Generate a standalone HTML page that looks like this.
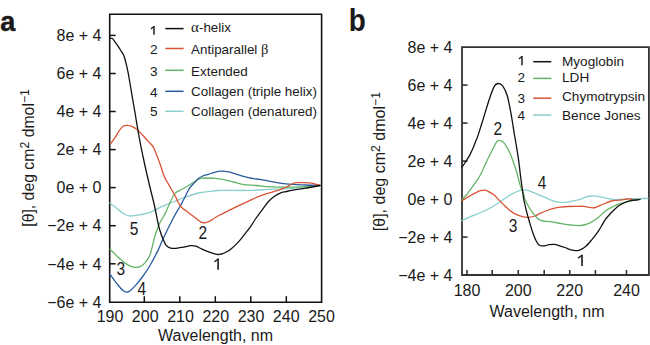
<!DOCTYPE html>
<html><head><meta charset="utf-8"><style>
html,body{margin:0;padding:0;background:#fff;width:650px;height:345px;overflow:hidden}
svg{display:block}
text{font-family:"Liberation Sans",sans-serif;fill:#1a1a1a}
</style></head><body>
<svg width="650" height="345" viewBox="0 0 650 345">
<text transform="translate(0.2,31) scale(0.95,1)" font-size="28.5" font-weight="bold" stroke="#1a1a1a" stroke-width="0.5">a</text>
<text transform="translate(348.8,31) scale(0.9,1)" font-size="31" font-weight="bold">b</text>
<path d="M109.7 14.2 H321.6 V302.2 H109.7 Z" fill="none" stroke="#111" stroke-width="1.6"/>
<path d="M109.7 35.4 h6" stroke="#111" stroke-width="1.5"/>
<text x="101.5" y="41.1" font-size="16.0" text-anchor="end">8e + 4</text>
<path d="M109.7 73.5 h6" stroke="#111" stroke-width="1.5"/>
<text x="101.5" y="79.2" font-size="16.0" text-anchor="end">6e + 4</text>
<path d="M109.7 111.5 h6" stroke="#111" stroke-width="1.5"/>
<text x="101.5" y="117.2" font-size="16.0" text-anchor="end">4e + 4</text>
<path d="M109.7 149.6 h6" stroke="#111" stroke-width="1.5"/>
<text x="101.5" y="155.3" font-size="16.0" text-anchor="end">2e + 4</text>
<path d="M109.7 187.6 h6" stroke="#111" stroke-width="1.5"/>
<text x="101.5" y="193.3" font-size="16.0" text-anchor="end">0e + 0</text>
<path d="M109.7 225.7 h6" stroke="#111" stroke-width="1.5"/>
<text x="101.5" y="231.4" font-size="16.0" text-anchor="end">−2e + 4</text>
<path d="M109.7 263.8 h6" stroke="#111" stroke-width="1.5"/>
<text x="101.5" y="269.5" font-size="16.0" text-anchor="end">−4e + 4</text>
<text x="101.5" y="307.5" font-size="16.0" text-anchor="end">−6e + 4</text>
<text x="110.0" y="322.0" font-size="16.0" text-anchor="middle">190</text>
<path d="M144.3 302.2 v-6" stroke="#111" stroke-width="1.5"/>
<text x="145.2" y="322.0" font-size="16.0" text-anchor="middle">200</text>
<path d="M179.8 302.2 v-6" stroke="#111" stroke-width="1.5"/>
<text x="180.5" y="322.0" font-size="16.0" text-anchor="middle">210</text>
<path d="M215.3 302.2 v-6" stroke="#111" stroke-width="1.5"/>
<text x="215.8" y="322.0" font-size="16.0" text-anchor="middle">220</text>
<path d="M250.8 302.2 v-6" stroke="#111" stroke-width="1.5"/>
<text x="251.0" y="322.0" font-size="16.0" text-anchor="middle">230</text>
<path d="M286.3 302.2 v-6" stroke="#111" stroke-width="1.5"/>
<text x="286.2" y="322.0" font-size="16.0" text-anchor="middle">240</text>
<text x="321.5" y="322.0" font-size="16.0" text-anchor="middle">250</text>
<text x="215.6" y="340.5" font-size="16.0" text-anchor="middle">Wavelength, nm</text>
<text transform="translate(33.5,157.9) rotate(-90)" font-size="15.8" text-anchor="middle">[θ], deg cm<tspan font-size="12.3" dy="-4.7">2</tspan><tspan dy="4.7"> dmol</tspan><tspan font-size="12.3" dy="-4.7">−1</tspan></text>
<path d="M154.0 26.0 V34.8" stroke="#1a1a1a" stroke-width="1.45" fill="none"/><path d="M153.7 26.8 L151.3 28.6" stroke="#1a1a1a" stroke-width="1.23" fill="none" stroke-linecap="round"/>
<path d="M165.3 28.6 H183.6" stroke="#111" stroke-width="1.5"/>
<text x="191.1" y="32.0" font-size="13.4" text-anchor="start"><tspan font-family="Liberation Serif" font-size="15">α</tspan>-helix</text>
<text x="150.0" y="53.8" font-size="13.6" text-anchor="start">2</text>
<path d="M165.3 48.5 H183.6" stroke="#da5234" stroke-width="1.5"/>
<text x="191.1" y="53.5" font-size="13.4" text-anchor="start">Antiparallel <tspan font-family="Liberation Serif" font-size="14.5">β</tspan></text>
<text x="150.0" y="75.5" font-size="13.6" text-anchor="start">3</text>
<path d="M165.3 70.3 H183.6" stroke="#64b466" stroke-width="1.5"/>
<text x="191.1" y="75.5" font-size="13.4" text-anchor="start">Extended</text>
<text x="150.0" y="96.5" font-size="13.6" text-anchor="start">4</text>
<path d="M165.3 91.3 H183.6" stroke="#2a5b9e" stroke-width="1.5"/>
<text x="191.1" y="96.4" font-size="13.4" text-anchor="start">Collagen (triple helix)</text>
<text x="150.0" y="116.3" font-size="13.6" text-anchor="start">5</text>
<path d="M165.3 111.3 H183.6" stroke="#8acfcc" stroke-width="1.5"/>
<text x="191.1" y="116.0" font-size="13.4" text-anchor="start">Collagen (denatured)</text>
<path d="M110.0 203.0 C110.7 203.6 112.9 205.2 114.3 206.3 C115.7 207.4 116.9 208.4 118.2 209.5 C119.5 210.6 120.8 211.7 122.1 212.6 C123.4 213.5 124.6 214.4 126.0 215.0 C127.4 215.6 129.1 215.9 130.7 216.0 C132.3 216.1 133.7 215.7 135.4 215.5 C137.1 215.3 138.8 215.0 140.9 214.6 C143.0 214.2 145.7 213.9 148.0 213.2 C150.3 212.5 152.2 211.4 154.5 210.3 C156.8 209.2 158.5 208.0 161.6 206.6 C164.7 205.2 169.1 203.6 173.2 202.0 C177.3 200.4 181.8 198.5 186.0 197.0 C190.2 195.5 194.2 193.9 198.2 193.0 C202.2 192.1 206.9 191.7 210.0 191.3 C213.1 190.9 214.1 190.7 217.0 190.5 C219.9 190.3 221.9 190.4 227.4 190.4 C232.9 190.4 243.2 190.6 250.0 190.4 C256.8 190.2 261.3 189.8 268.2 189.4 C275.1 189.1 282.8 189.0 291.4 188.3 C300.0 187.7 315.2 186.0 320.0 185.5" fill="none" stroke="#8acfcc" stroke-width="1.30" stroke-linejoin="round" stroke-linecap="round"/>
<path d="M110.0 249.3 C111.4 250.7 115.8 255.0 118.4 257.4 C121.0 259.8 123.1 261.8 125.4 263.4 C127.7 265.0 130.0 266.3 132.3 266.9 C134.6 267.5 137.3 267.5 139.3 266.9 C141.3 266.3 142.8 265.3 144.5 263.4 C146.2 261.5 148.4 258.2 149.7 255.6 C150.9 253.0 151.2 250.8 152.0 247.8 C152.8 244.8 153.3 241.5 154.5 237.5 C155.7 233.5 157.5 228.0 159.3 224.0 C161.1 220.0 163.5 216.8 165.1 213.6 C166.7 210.3 167.6 207.6 169.1 204.5 C170.6 201.4 172.5 197.1 173.8 195.0 C175.1 192.9 175.6 192.8 177.0 191.8 C178.4 190.9 180.0 190.4 182.0 189.3 C184.0 188.2 186.6 186.7 188.9 185.3 C191.2 183.9 194.0 181.9 195.9 180.7 C197.8 179.5 199.0 178.8 200.5 178.3 C202.0 177.9 202.7 178.0 205.1 178.0 C207.5 178.0 211.9 178.0 215.0 178.3 C218.1 178.6 220.9 179.1 223.9 179.7 C226.9 180.3 230.1 181.2 233.2 182.0 C236.3 182.8 238.6 183.7 242.5 184.3 C246.4 184.9 252.3 185.1 256.6 185.5 C260.9 185.9 264.3 186.4 268.2 186.7 C272.1 187.0 275.9 187.0 279.8 187.1 C283.7 187.2 287.1 187.2 291.4 187.1 C295.6 187.0 300.5 187.0 305.3 186.7 C310.1 186.4 317.6 185.7 320.0 185.5" fill="none" stroke="#64b466" stroke-width="1.30" stroke-linejoin="round" stroke-linecap="round"/>
<path d="M109.8 273.9 C111.0 275.5 114.4 280.5 116.7 283.4 C119.0 286.2 121.6 289.6 123.6 291.0 C125.6 292.4 126.8 292.7 128.8 291.7 C130.8 290.7 133.5 287.6 135.8 285.1 C138.1 282.6 140.4 279.7 142.7 276.5 C145.0 273.3 147.1 270.4 149.7 266.0 C152.2 261.6 155.8 254.9 158.0 250.4 C160.2 245.9 160.5 244.4 163.0 239.0 C165.5 233.6 170.2 223.9 173.2 218.2 C176.2 212.5 178.8 208.7 180.8 205.0 C182.8 201.3 184.0 199.1 185.4 196.3 C186.8 193.5 187.9 190.5 189.5 188.2 C191.1 185.9 193.1 184.1 194.7 182.4 C196.2 180.8 197.5 179.4 198.8 178.3 C200.2 177.2 201.2 176.7 202.8 176.0 C204.4 175.3 206.7 174.9 208.6 174.3 C210.5 173.7 212.2 172.8 214.4 172.3 C216.6 171.8 219.2 171.3 221.6 171.2 C224.0 171.1 226.3 171.4 228.6 171.9 C230.9 172.4 233.2 173.2 235.5 173.9 C237.8 174.6 240.1 175.5 242.5 176.2 C244.9 176.9 247.7 177.5 250.0 178.0 C252.3 178.5 253.6 178.5 256.6 179.0 C259.6 179.5 264.3 180.1 268.2 180.8 C272.1 181.5 275.9 182.5 280.0 183.1 C284.1 183.7 288.6 184.1 292.9 184.4 C297.2 184.7 301.3 184.8 305.8 185.0 C310.3 185.2 317.6 185.3 320.0 185.4" fill="none" stroke="#2a5b9e" stroke-width="1.30" stroke-linejoin="round" stroke-linecap="round"/>
<path d="M110.8 143.6 C111.5 142.6 113.5 139.8 115.0 137.6 C116.5 135.3 118.2 132.0 119.6 130.1 C120.9 128.2 121.8 127.0 123.1 126.2 C124.4 125.4 126.2 125.3 127.7 125.4 C129.2 125.5 130.8 125.9 132.3 126.6 C133.9 127.3 135.2 128.1 137.0 129.5 C138.8 130.9 141.0 133.4 142.8 135.3 C144.6 137.2 146.2 139.1 148.0 141.1 C149.8 143.1 151.6 143.8 153.5 147.5 C155.4 151.2 157.9 158.2 159.7 163.0 C161.5 167.8 162.6 172.6 164.3 176.6 C166.0 180.6 168.3 183.8 170.1 187.0 C171.9 190.2 173.6 192.8 175.0 195.5 C176.4 198.2 177.3 200.9 178.5 203.0 C179.7 205.1 180.7 206.4 182.0 207.8 C183.3 209.2 185.1 210.0 186.6 211.2 C188.1 212.3 189.6 213.5 191.2 214.7 C192.8 215.9 194.3 217.0 195.9 218.2 C197.5 219.4 199.1 221.1 200.5 221.9 C201.9 222.7 203.0 222.9 204.6 222.8 C206.2 222.7 208.1 221.9 209.8 221.1 C211.5 220.3 213.1 218.9 215.0 217.8 C216.9 216.7 218.7 215.7 221.3 214.3 C223.9 213.0 227.5 211.2 230.6 209.7 C233.7 208.2 236.7 206.7 239.8 205.2 C242.9 203.7 246.3 202.1 249.1 200.8 C251.9 199.5 254.2 198.4 256.5 197.4 C258.8 196.4 260.8 195.6 263.0 194.8 C265.2 194.0 267.4 193.5 269.6 192.8 C271.8 192.2 274.2 191.5 276.1 190.9 C278.1 190.3 279.6 189.8 281.3 189.1 C283.0 188.4 285.1 187.6 286.5 187.0 C287.9 186.4 288.4 186.0 289.5 185.4 C290.6 184.8 291.8 183.9 292.9 183.5 C294.0 183.1 294.5 182.8 296.1 182.7 C297.7 182.5 300.4 182.6 302.6 182.6 C304.8 182.6 307.3 182.6 309.1 182.8 C310.9 183.0 312.0 183.2 313.6 183.6 C315.2 184.0 317.7 184.7 318.8 185.0 C319.9 185.3 319.8 185.4 320.0 185.5" fill="none" stroke="#da5234" stroke-width="1.30" stroke-linejoin="round" stroke-linecap="round"/>
<path d="M110.0 38.2 C110.4 38.3 111.6 38.0 112.4 38.6 C113.2 39.2 114.0 40.5 115.0 41.9 C116.0 43.3 117.4 45.2 118.5 46.8 C119.6 48.4 120.6 50.3 121.5 51.7 C122.4 53.1 123.2 54.0 123.8 55.4 C124.4 56.8 124.7 58.3 125.2 60.0 C125.7 61.7 126.1 63.6 126.6 65.6 C127.1 67.6 127.5 69.7 128.0 72.1 C128.5 74.5 128.4 74.0 129.4 80.0 C130.4 86.0 132.5 98.3 134.2 108.0 C135.8 117.7 137.6 128.8 139.3 138.0 C141.0 147.2 142.7 155.0 144.4 163.0 C146.1 171.0 148.0 179.0 149.7 186.0 C151.3 193.0 153.0 199.0 154.3 205.0 C155.7 211.0 156.9 218.0 157.8 222.0 C158.7 226.0 158.7 226.4 159.5 229.0 C160.3 231.6 161.4 235.2 162.5 237.8 C163.6 240.4 164.6 243.1 165.8 244.8 C167.1 246.5 168.3 247.2 170.0 247.8 C171.7 248.4 174.1 248.4 176.2 248.3 C178.2 248.2 179.9 247.8 182.3 247.3 C184.8 246.9 188.7 245.8 190.9 245.6 C193.2 245.4 194.0 245.6 195.8 246.2 C197.7 246.8 199.7 248.2 202.0 249.2 C204.3 250.2 206.9 251.3 209.4 252.2 C211.9 253.1 214.8 254.1 216.8 254.4 C218.8 254.7 219.8 254.4 221.5 254.0 C223.2 253.6 225.1 252.6 226.8 251.7 C228.5 250.8 230.0 249.7 231.6 248.4 C233.2 247.1 234.7 245.7 236.3 244.1 C237.9 242.5 239.5 240.7 241.1 238.8 C242.7 236.9 244.3 234.7 245.9 232.6 C247.5 230.5 249.0 228.8 250.7 226.4 C252.3 224.1 253.7 221.5 255.8 218.5 C257.9 215.5 261.1 211.2 263.3 208.3 C265.5 205.4 267.3 202.8 269.2 200.8 C271.1 198.8 272.5 197.6 274.5 196.2 C276.5 194.8 279.3 193.4 281.3 192.6 C283.3 191.8 284.6 191.9 286.5 191.5 C288.4 191.1 290.8 190.6 292.9 190.2 C295.0 189.8 297.2 189.5 299.4 189.2 C301.5 188.9 303.6 188.6 305.8 188.2 C308.0 187.8 309.9 187.4 312.3 187.0 C314.7 186.6 318.7 185.8 320.0 185.5" fill="none" stroke="#111" stroke-width="1.30" stroke-linejoin="round" stroke-linecap="round"/>
<path d="M218.1 258.4 V269.7" stroke="#1a1a1a" stroke-width="1.60" fill="none"/><path d="M217.8 259.2 L214.9 261.6" stroke="#1a1a1a" stroke-width="1.36" fill="none" stroke-linecap="round"/>
<text transform="translate(134.0,235.3) scale(1,1.150)" font-size="15.5" text-anchor="middle">5</text>
<text transform="translate(120.8,275.4) scale(1,1.150)" font-size="15.5" text-anchor="middle">3</text>
<text transform="translate(141.7,294.6) scale(1,1.150)" font-size="15.5" text-anchor="middle">4</text>
<text transform="translate(202.8,238.8) scale(1,1.150)" font-size="15.5" text-anchor="middle">2</text>
<path d="M462.0 47.1 H648.9 V275.0 H462.0 Z" fill="none" stroke="#333" stroke-width="1.8"/>
<text x="452.5" y="52.8" font-size="16.0" text-anchor="end">8e + 4</text>
<path d="M462.0 85.1 h5.5" stroke="#333" stroke-width="1.6"/>
<text x="452.5" y="90.8" font-size="16.0" text-anchor="end">6e + 4</text>
<path d="M462.0 123.1 h5.5" stroke="#333" stroke-width="1.6"/>
<text x="452.5" y="128.8" font-size="16.0" text-anchor="end">4e + 4</text>
<path d="M462.0 161.1 h5.5" stroke="#333" stroke-width="1.6"/>
<text x="452.5" y="166.8" font-size="16.0" text-anchor="end">2e + 4</text>
<path d="M462.0 199.1 h2.5" stroke="#333" stroke-width="1.6"/>
<text x="452.5" y="204.8" font-size="16.0" text-anchor="end">0e + 0</text>
<path d="M462.0 237.1 h5.5" stroke="#333" stroke-width="1.6"/>
<text x="452.5" y="242.8" font-size="16.0" text-anchor="end">−2e + 4</text>
<text x="452.5" y="280.8" font-size="16.0" text-anchor="end">−4e + 4</text>
<path d="M467.0 275.0 v-5" stroke="#333" stroke-width="1.6"/>
<text x="467.0" y="295.5" font-size="16.0" text-anchor="middle">180</text>
<path d="M492.2 275.0 v-5" stroke="#333" stroke-width="1.6"/>
<path d="M518.3 275.0 v-5" stroke="#333" stroke-width="1.6"/>
<text x="518.3" y="295.5" font-size="16.0" text-anchor="middle">200</text>
<path d="M544.2 275.0 v-5" stroke="#333" stroke-width="1.6"/>
<path d="M569.7 275.0 v-5" stroke="#333" stroke-width="1.6"/>
<text x="569.7" y="295.5" font-size="16.0" text-anchor="middle">220</text>
<path d="M595.4 275.0 v-5" stroke="#333" stroke-width="1.6"/>
<path d="M626.5 275.0 v-5" stroke="#333" stroke-width="1.6"/>
<text x="626.5" y="295.5" font-size="16.0" text-anchor="middle">240</text>
<text x="547.0" y="317.0" font-size="16.0" text-anchor="middle">Wavelength, nm</text>
<text transform="translate(385,161.6) rotate(-90)" font-size="16" text-anchor="middle">[θ], deg cm<tspan font-size="12.3" dy="-4.7">2</tspan><tspan dy="4.7"> dmol</tspan><tspan font-size="12.3" dy="-4.7">−1</tspan></text>
<path d="M522.0 56.0 V65.3" stroke="#1a1a1a" stroke-width="1.45" fill="none"/><path d="M521.7 56.8 L519.3 58.6" stroke="#1a1a1a" stroke-width="1.23" fill="none" stroke-linecap="round"/>
<path d="M533.2 61.7 H551.3" stroke="#111" stroke-width="1.5"/>
<text x="562.0" y="65.7" font-size="13.6" text-anchor="start">Myoglobin</text>
<text x="517.6" y="82.0" font-size="13.6" text-anchor="start">2</text>
<path d="M533.2 78.4 H551.3" stroke="#64b466" stroke-width="1.5"/>
<text x="562.0" y="82.0" font-size="13.6" text-anchor="start">LDH</text>
<text x="517.6" y="102.8" font-size="13.6" text-anchor="start">3</text>
<path d="M533.2 98.2 H551.3" stroke="#da5234" stroke-width="1.5"/>
<text x="562.0" y="101.4" font-size="13.6" text-anchor="start">Chymotrypsin</text>
<text x="517.6" y="120.0" font-size="13.6" text-anchor="start">4</text>
<path d="M533.2 115.1 H551.3" stroke="#8acfcc" stroke-width="1.5"/>
<text x="562.0" y="120.0" font-size="13.6" text-anchor="start">Bence Jones</text>
<path d="M462.0 220.7 C463.6 219.9 468.1 217.6 471.6 216.1 C475.1 214.6 479.7 213.1 483.2 211.5 C486.7 209.9 489.8 208.4 492.5 206.8 C495.2 205.2 497.1 203.8 499.4 202.2 C501.7 200.6 504.3 198.9 506.4 197.5 C508.5 196.1 509.7 195.0 512.0 193.8 C514.3 192.6 518.1 191.0 520.1 190.3 C522.1 189.6 522.6 189.8 524.0 189.8 C525.4 189.8 526.4 189.7 528.2 190.3 C530.1 190.9 533.1 192.3 535.1 193.2 C537.1 194.0 538.0 194.6 540.0 195.4 C542.0 196.2 544.7 197.3 547.0 198.3 C549.3 199.3 551.8 200.5 553.9 201.2 C556.0 201.9 557.6 202.2 559.7 202.4 C561.8 202.6 564.4 202.5 566.7 202.2 C569.0 201.9 571.4 201.3 573.6 200.8 C575.9 200.3 578.2 199.9 580.2 199.3 C582.2 198.7 583.5 197.7 585.4 197.1 C587.3 196.5 589.5 196.1 591.5 196.0 C593.5 195.9 595.6 196.0 597.6 196.3 C599.6 196.6 601.7 197.2 603.7 197.6 C605.7 198.0 607.9 198.6 609.8 198.9 C611.7 199.2 613.2 199.5 615.0 199.6 C616.8 199.7 618.0 199.5 620.6 199.3 C623.2 199.1 626.1 198.7 630.7 198.6 C635.3 198.5 645.1 198.5 648.0 198.5" fill="none" stroke="#8acfcc" stroke-width="1.30" stroke-linejoin="round" stroke-linecap="round"/>
<path d="M462.0 200.6 C463.0 200.0 466.3 198.0 468.1 196.9 C469.9 195.8 471.4 195.0 473.0 194.1 C474.6 193.2 476.4 192.2 477.9 191.6 C479.4 191.0 480.7 190.7 481.9 190.4 C483.1 190.2 484.0 190.0 485.0 190.1 C486.0 190.2 486.4 190.4 487.8 191.2 C489.2 191.9 491.7 193.1 493.6 194.6 C495.5 196.1 497.5 198.5 499.4 200.4 C501.3 202.3 503.4 204.5 505.2 206.2 C507.0 207.9 508.4 209.3 510.0 210.6 C511.6 211.9 513.2 213.0 515.0 213.9 C516.8 214.8 518.7 215.6 520.8 216.2 C522.9 216.8 525.4 217.4 527.8 217.4 C530.2 217.4 533.0 216.7 535.0 216.0 C537.0 215.3 538.0 214.3 540.0 213.4 C542.0 212.5 544.7 211.3 547.0 210.5 C549.3 209.7 551.6 208.9 553.9 208.3 C556.2 207.7 558.6 207.4 560.9 207.1 C563.2 206.8 565.4 206.6 567.8 206.5 C570.1 206.4 572.4 206.3 575.0 206.3 C577.6 206.3 581.5 206.2 583.7 206.3 C585.9 206.4 586.5 206.8 588.0 207.1 C589.5 207.3 591.1 207.8 592.4 207.8 C593.7 207.8 594.4 207.8 595.9 207.3 C597.4 206.8 599.4 205.8 601.1 205.0 C602.8 204.2 604.6 203.5 606.3 202.8 C608.0 202.1 609.9 201.4 611.5 201.0 C613.1 200.6 614.1 200.5 615.9 200.3 C617.7 200.1 620.5 200.0 622.3 199.8 C624.1 199.6 625.5 199.1 626.9 199.0 C628.3 198.9 629.7 198.9 630.6 199.0 C631.5 199.1 632.2 199.7 632.5 199.8" fill="none" stroke="#da5234" stroke-width="1.30" stroke-linejoin="round" stroke-linecap="round"/>
<path d="M462.2 199.0 C462.8 198.4 464.6 196.9 465.7 195.7 C466.8 194.5 467.8 193.0 468.9 191.6 C470.0 190.2 471.1 188.7 472.2 187.2 C473.3 185.7 474.4 184.0 475.4 182.7 C476.3 181.3 477.1 180.4 477.9 179.1 C478.7 177.8 479.4 176.6 480.3 175.0 C481.2 173.4 481.9 171.8 483.0 169.5 C484.1 167.2 485.3 164.2 486.7 161.3 C488.1 158.4 489.9 154.7 491.3 152.0 C492.7 149.3 493.9 146.8 494.8 145.1 C495.8 143.3 496.2 142.3 497.0 141.5 C497.8 140.7 498.3 140.3 499.3 140.4 C500.3 140.5 501.9 141.0 503.1 142.0 C504.3 143.0 505.4 144.7 506.6 146.6 C507.8 148.5 508.9 150.9 510.1 153.6 C511.3 156.3 512.5 159.5 513.6 162.8 C514.8 166.1 515.9 169.6 517.0 173.3 C518.1 177.0 519.0 181.6 520.1 185.1 C521.2 188.6 522.8 191.9 523.6 194.3 C524.4 196.7 524.1 197.4 525.0 199.5 C525.9 201.6 527.5 204.6 528.9 207.0 C530.3 209.4 532.0 211.9 533.6 213.9 C535.2 215.9 536.7 217.9 538.2 219.1 C539.7 220.3 540.8 220.6 542.8 221.0 C544.8 221.4 547.3 221.2 550.3 221.6 C553.2 222.0 557.1 222.8 560.5 223.4 C563.9 224.0 567.2 224.7 570.6 225.0 C574.0 225.3 577.8 225.8 580.8 225.5 C583.8 225.2 586.2 224.6 588.9 223.4 C591.6 222.2 594.3 220.4 597.0 218.4 C599.7 216.4 603.2 212.8 605.1 211.2 C607.0 209.6 606.4 210.1 608.5 209.0 C610.6 207.9 614.6 205.6 617.7 204.4 C620.8 203.2 624.1 202.3 626.9 201.6 C629.7 200.9 632.1 200.6 634.3 200.2 C636.5 199.8 639.0 199.5 640.0 199.4" fill="none" stroke="#64b466" stroke-width="1.30" stroke-linejoin="round" stroke-linecap="round"/>
<path d="M462.0 167.2 C462.6 166.3 464.2 164.0 465.5 162.0 C466.8 160.0 468.3 157.7 469.6 155.4 C470.9 153.1 472.0 150.6 473.1 148.1 C474.2 145.6 475.1 142.7 476.0 140.5 C476.9 138.3 476.9 138.9 478.2 134.9 C479.5 130.9 482.1 122.6 484.0 116.4 C485.9 110.2 488.1 102.8 489.8 97.8 C491.5 92.8 493.0 88.6 494.4 86.2 C495.8 83.8 496.5 83.6 497.9 83.5 C499.3 83.4 501.1 83.8 502.6 85.8 C504.2 87.8 505.9 91.2 507.2 95.5 C508.5 99.8 509.7 106.8 510.7 111.8 C511.7 116.8 512.4 121.8 513.0 125.7 C513.6 129.6 513.9 131.5 514.5 135.0 C515.1 138.5 515.8 142.4 516.5 146.6 C517.2 150.8 518.0 155.3 518.6 160.0 C519.2 164.7 519.8 170.1 520.4 175.0 C521.0 179.9 521.8 185.5 522.4 189.7 C523.0 193.9 523.2 196.3 523.9 200.0 C524.6 203.7 525.7 207.9 526.6 211.6 C527.5 215.3 528.5 218.6 529.5 222.0 C530.5 225.4 531.6 229.2 532.6 232.0 C533.6 234.8 534.3 237.0 535.2 238.9 C536.1 240.8 536.9 242.6 537.8 243.7 C538.7 244.8 539.2 245.3 540.4 245.7 C541.6 246.0 543.3 246.0 544.8 245.8 C546.2 245.6 547.5 244.8 549.1 244.6 C550.7 244.4 552.5 244.2 554.3 244.4 C556.0 244.6 557.9 245.3 559.6 245.8 C561.4 246.3 562.9 246.8 564.8 247.5 C566.7 248.2 569.0 249.3 570.8 249.8 C572.6 250.3 573.8 250.7 575.4 250.7 C577.0 250.7 578.4 250.5 580.1 249.8 C581.9 249.1 584.0 248.0 585.9 246.3 C587.8 244.7 589.8 242.2 591.7 239.9 C593.6 237.6 595.8 234.9 597.5 232.4 C599.2 229.9 600.8 227.1 602.1 224.9 C603.4 222.7 604.2 221.1 605.5 219.3 C606.8 217.5 608.6 215.6 610.0 214.0 C611.4 212.4 612.4 211.3 614.0 209.9 C615.6 208.5 617.6 206.5 619.5 205.3 C621.4 204.1 623.2 203.3 625.1 202.5 C627.0 201.7 628.5 201.1 630.6 200.7 C632.8 200.2 636.4 200.0 638.0 199.8 C639.6 199.6 639.7 199.6 640.0 199.5" fill="none" stroke="#111" stroke-width="1.30" stroke-linejoin="round" stroke-linecap="round"/>
<path d="M582.0 254.7 V266.0" stroke="#1a1a1a" stroke-width="1.60" fill="none"/><path d="M581.7 255.5 L578.4 257.9" stroke="#1a1a1a" stroke-width="1.36" fill="none" stroke-linecap="round"/>
<text transform="translate(497.9,134.8) scale(1,1.150)" font-size="15.5" text-anchor="middle">2</text>
<text transform="translate(513.0,232.0) scale(1,1.150)" font-size="15.5" text-anchor="middle">3</text>
<text transform="translate(542.0,189.3) scale(1,1.150)" font-size="15.5" text-anchor="middle">4</text>
</svg>
</body></html>
